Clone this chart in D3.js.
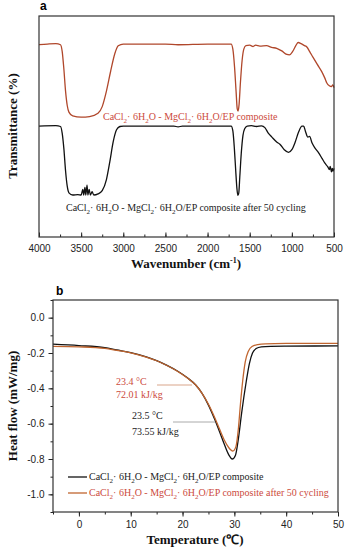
<!DOCTYPE html>
<html>
<head>
<meta charset="utf-8">
<script src="https://cdn.jsdelivr.net/npm/d3@7"></script>
<style>
  body { margin: 0; background: #fff; }
  svg { display: block; }
  .tick text { font-family: "Liberation Sans", Arial, sans-serif; font-size: 10px; fill: #222; }
  .title { font-family: "Liberation Serif", "Times New Roman", serif; font-weight: bold; font-size: 13px; fill: #111; }
  .note { font-family: "Liberation Serif", "Times New Roman", serif; font-size: 10px; }
  .panel { font-family: "Liberation Sans", Arial, sans-serif; font-weight: bold; font-size: 12px; }
</style>
</head>
<body>
<script>
"use strict";

// ---- panel a: FTIR, [wavenumber, transmittance]
var ftirFresh = [
  [4000, 87.0], [3900, 87.3], [3800, 87.5], [3745, 87.0], [3725, 84], [3705, 76],
  [3685, 66], [3665, 59.5], [3645, 56.5], [3600, 54.8], [3500, 54.2], [3400, 54.5],
  [3300, 56], [3250, 59], [3200, 66], [3150, 75], [3100, 83], [3060, 86.5],
  [3000, 87.3], [2500, 87.3], [2350, 87.0], [2000, 87.3], [1720, 87.3], [1700, 85],
  [1680, 77], [1662, 66], [1648, 58], [1638, 57], [1626, 60], [1610, 70],
  [1590, 80], [1570, 85], [1545, 86.6], [1500, 86.8], [1460, 86.2], [1430, 86.8],
  [1380, 86.4], [1300, 86.6], [1240, 85.8], [1180, 85.4], [1120, 84.2], [1060, 82.6],
  [1030, 82.4], [990, 84], [950, 86.8], [925, 88.0], [890, 87.5], [850, 86.6],
  [822, 86], [790, 84], [750, 81.4], [700, 78.2], [644, 74.7], [610, 72],
  [585, 69.7], [555, 68.4], [530, 68.0], [515, 68.8], [500, 67.6]
];
var ftirCycled = [
  [4000, 50.2], [3800, 50.4], [3745, 50], [3725, 47], [3705, 40], [3685, 30],
  [3665, 23], [3645, 20], [3600, 19], [3540, 19.2], [3500, 19], [3480, 21.5],
  [3470, 19], [3455, 22.5], [3445, 19], [3430, 23.5], [3420, 19], [3405, 21.5],
  [3390, 19], [3370, 20.5], [3350, 19], [3300, 19.5], [3250, 21], [3200, 26],
  [3160, 34], [3120, 43], [3080, 48.5], [3040, 50], [3000, 50.2], [2400, 50.2],
  [2350, 49.8], [2300, 50.2], [1720, 50.2], [1700, 48], [1682, 40], [1666, 30],
  [1652, 22], [1640, 18.8], [1630, 19.8], [1618, 27], [1600, 38], [1580, 46],
  [1560, 49], [1530, 50.2], [1480, 50.4], [1420, 50.0], [1360, 50.3], [1320, 49.5],
  [1280, 47], [1237, 45.2], [1180, 43], [1142, 42], [1090, 39.5], [1040, 38.3],
  [1000, 39.5], [960, 43], [920, 47.5], [880, 50.2], [860, 50.2], [840, 48],
  [810, 45.2], [790, 45.5], [760, 42.5], [727, 40.3], [690, 38.5], [644, 35.7],
  [610, 33.5], [573, 31.7], [555, 30.5], [545, 32], [530, 29.5], [520, 31],
  [510, 29.8], [500, 31]
];
var waveTicks = [4000, 3500, 3000, 2500, 2000, 1500, 1000, 500];

// ---- panel b: DSC, [temperature, heat flow]
var dscFresh = [
  [-5, -0.150], [0, -0.158], [5, -0.170], [7.3, -0.183], [10, -0.198], [13, -0.222],
  [15, -0.243], [17, -0.270], [19, -0.302], [21, -0.342], [22.5, -0.380], [23.8, -0.43],
  [25, -0.495], [26.2, -0.575], [27.2, -0.65], [28.1, -0.72], [28.9, -0.775], [29.6, -0.80],
  [30.2, -0.78], [30.8, -0.68], [31.4, -0.54], [32.3, -0.36], [32.9, -0.26], [33.5, -0.20],
  [34.2, -0.175], [35.2, -0.165], [37, -0.162], [40, -0.161], [50, -0.160]
];
var dscCycled = [
  [-5, -0.162], [0, -0.165], [5, -0.174], [7.3, -0.185], [10, -0.199], [13, -0.223],
  [15, -0.244], [17, -0.271], [19, -0.303], [21, -0.343], [22.5, -0.380], [23.8, -0.43],
  [25, -0.49], [26.2, -0.565], [27.2, -0.635], [28.1, -0.695], [28.9, -0.735], [29.7, -0.755],
  [30.3, -0.73], [30.8, -0.62], [31.2, -0.48], [31.6, -0.36], [32.1, -0.25], [32.7, -0.19],
  [33.4, -0.163], [34.5, -0.152], [36, -0.148], [40, -0.146], [50, -0.145]
];
var tempTicks = [0, 10, 20, 30, 40, 50];
var flowTicks = [0.0, -0.2, -0.4, -0.6, -0.8, -1.0];

var label = [["CaCl"], ["2", 1], ["·  6H"], ["2", 1], ["O - MgCl"], ["2", 1], ["·  6H"], ["2", 1], ["O/EP composite"]];
var labelCycled = label.slice(0, -1).concat([["O/EP composite after 50 cycling"]]);

var redA = "#b0472b", redB = "#c0652f", redText = "#cc4a3c";

var svg = d3.select("body").append("svg")
    .attr("width", 346)
    .attr("height", 550);

// text with subscripts
function chem(g, parts, x, y, color) {
  var t = g.append("text").attr("class", "note").attr("x", x).attr("y", y).attr("fill", color);
  parts.forEach(function(p, i) {
    var s = t.append("tspan").text(p[0]);
    if (p[1]) s.attr("font-size", "7px").attr("dy", 2.5);
    else if (i > 0) s.attr("dy", -2.5);
  });
  return t;
}

function plainAxis(g) {
  g.select(".domain").remove();
  g.selectAll("line").attr("stroke", "#222");
}

// ===== panel a =====
var ax = d3.scaleLinear().domain([4000, 500]).range([39, 334]);
var ay = d3.scaleLinear().domain([0, 100]).range([237, 16]);

svg.append("g")
    .attr("transform", "translate(0,237)")
    .call(d3.axisBottom(ax).tickValues(d3.range(500, 4001, 250)).tickSize(-2.5).tickFormat(""))
    .call(plainAxis);
svg.append("g")
    .attr("transform", "translate(0,237)")
    .call(d3.axisBottom(ax).tickValues(waveTicks).tickSize(-4.5).tickPadding(8).tickFormat(d3.format("d")))
    .call(plainAxis);

var lineA = d3.line()
    .x(function(d) { return ax(d[0]); })
    .y(function(d) { return ay(d[1]); })
    .curve(d3.curveMonotoneX);

svg.append("path").datum(ftirFresh)
    .attr("d", lineA).attr("fill", "none").attr("stroke", redA).attr("stroke-width", 1.3);
svg.append("path").datum(ftirCycled)
    .attr("d", lineA).attr("fill", "none").attr("stroke", "#111").attr("stroke-width", 1.3);

svg.append("rect").attr("x", 39).attr("y", 16).attr("width", 295).attr("height", 221)
    .attr("fill", "none").attr("stroke", "#333").attr("stroke-width", 1.2);

chem(svg, label, 103, 120, redText);
chem(svg, labelCycled, 66, 211, "#222");

svg.append("text").attr("class", "panel").attr("x", 40).attr("y", 10).text("a");
var wn = svg.append("text").attr("class", "title").attr("x", 186).attr("y", 268).attr("text-anchor", "middle");
wn.append("tspan").text("Wavenumber (cm");
wn.append("tspan").attr("font-size", "8px").attr("dy", -5).text("-1");
wn.append("tspan").attr("dy", 5).text(")");
svg.append("text").attr("class", "title")
    .attr("transform", "translate(17,126) rotate(-90)")
    .attr("text-anchor", "middle")
    .text("Transmittance (%)");

// ===== panel b =====
var bx = d3.scaleLinear().domain([-5, 50]).range([53, 338]);
var by = d3.scaleLinear().domain([-1.1, 0.1]).range([512, 300]);
var fmtFlow = function(d) { return d3.format(".1f")(d).replace("−", "-"); };

svg.append("g")
    .attr("transform", "translate(0,512)")
    .call(d3.axisBottom(bx).tickValues(d3.range(-5, 51, 5)).tickSize(2.5).tickFormat(""))
    .call(plainAxis);
svg.append("g")
    .attr("transform", "translate(0,512)")
    .call(d3.axisBottom(bx).tickValues(tempTicks).tickSize(4.5).tickPadding(4).tickFormat(d3.format("d")))
    .call(plainAxis);
svg.append("g")
    .attr("transform", "translate(53,0)")
    .call(d3.axisLeft(by).tickValues(d3.range(-11, 2).map(function(i) { return i / 10; })).tickSize(2.5).tickFormat(""))
    .call(plainAxis);
svg.append("g")
    .attr("transform", "translate(53,0)")
    .call(d3.axisLeft(by).tickValues(flowTicks).tickSize(4.5).tickPadding(4).tickFormat(fmtFlow))
    .call(plainAxis);

var lineB = d3.line()
    .x(function(d) { return bx(d[0]); })
    .y(function(d) { return by(d[1]); })
    .curve(d3.curveMonotoneX);

svg.append("path").datum(dscFresh)
    .attr("d", lineB).attr("fill", "none").attr("stroke", "#111").attr("stroke-width", 1.3);
svg.append("path").datum(dscCycled)
    .attr("d", lineB).attr("fill", "none").attr("stroke", redB).attr("stroke-width", 1.3);

svg.append("rect").attr("x", 53).attr("y", 300).attr("width", 285).attr("height", 212)
    .attr("fill", "none").attr("stroke", "#333").attr("stroke-width", 1.2);

// peak annotations
svg.append("line").attr("x1", 157).attr("x2", 192).attr("y1", 385).attr("y2", 385)
    .attr("stroke", "#d9a58a").attr("stroke-width", 1);
svg.append("text").attr("class", "note").attr("x", 116).attr("y", 385).attr("fill", redText).text("23.4  °C");
svg.append("text").attr("class", "note").attr("x", 116).attr("y", 398).attr("fill", redText).text("72.01 kJ/kg");
svg.append("line").attr("x1", 173).attr("x2", 215).attr("y1", 422).attr("y2", 422)
    .attr("stroke", "#aaa").attr("stroke-width", 1);
svg.append("text").attr("class", "note").attr("x", 132).attr("y", 419).attr("fill", "#222").text("23.5  °C");
svg.append("text").attr("class", "note").attr("x", 132).attr("y", 435).attr("fill", "#222").text("73.55 kJ/kg");

// legend
svg.append("line").attr("x1", 68).attr("x2", 87).attr("y1", 477).attr("y2", 477).attr("stroke", "#111").attr("stroke-width", 1.3);
chem(svg, label, 89, 480, "#222");
svg.append("line").attr("x1", 68).attr("x2", 87).attr("y1", 493).attr("y2", 493).attr("stroke", redB).attr("stroke-width", 1.3);
chem(svg, labelCycled, 89, 496, redText);

svg.append("text").attr("class", "panel").attr("x", 56).attr("y", 295).text("b");
svg.append("text").attr("class", "title").attr("x", 195).attr("y", 544).attr("text-anchor", "middle")
    .text("Temperature (℃)");
svg.append("text").attr("class", "title")
    .attr("transform", "translate(17,406) rotate(-90)")
    .attr("text-anchor", "middle")
    .text("Heat flow (mW/mg)");
</script>
</body>
</html>
